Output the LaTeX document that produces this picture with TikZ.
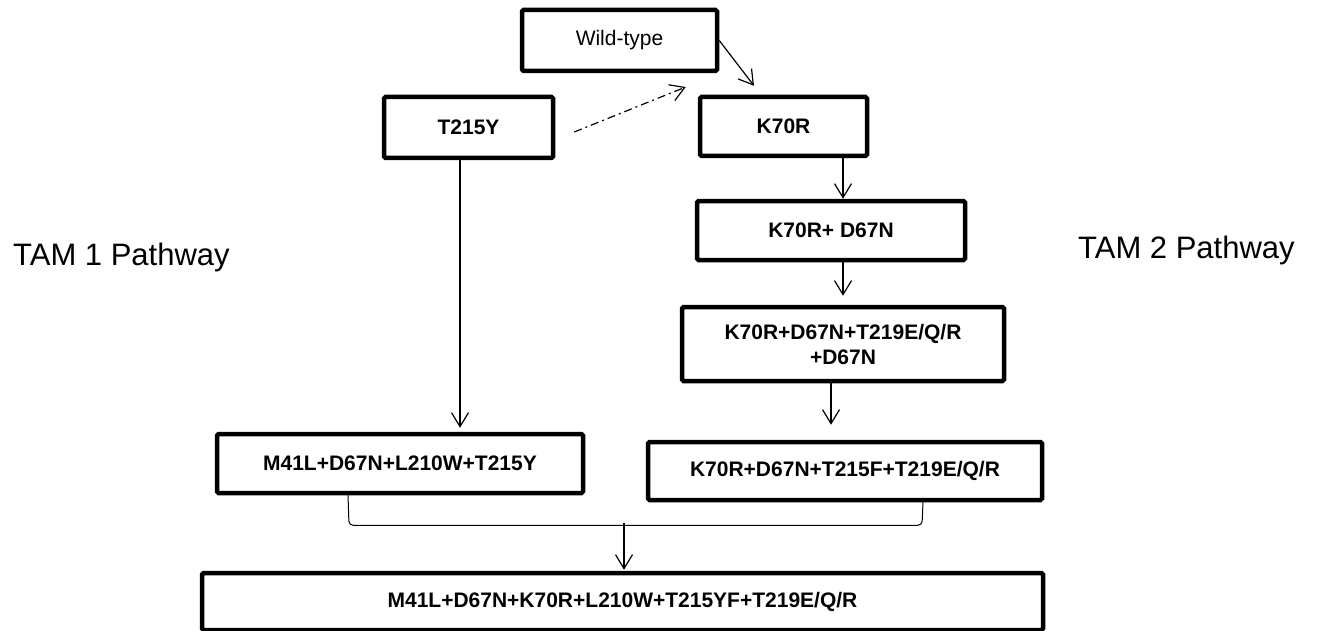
\documentclass[tikz,border=0pt]{standalone}
\usepackage{fontspec}
\setmainfont{Liberation Sans}
\usetikzlibrary{arrows.meta,calc}
\begin{document}
\begin{tikzpicture}[x=1pt,y=-1pt,
  box/.style={draw=black,line width=4.5pt,rounded corners=1.5pt,rectangle,inner sep=0pt,
    font=\fontsize{21}{25}\selectfont\bfseries,align=center},
  arr/.style={line width=1.2pt,-{Straight Barb[length=14pt,width=17pt,line width=1.2pt]}},
  lbl/.style={font=\fontsize{31}{36}\selectfont,inner sep=0pt,anchor=base west}]
\useasboundingbox[fill=white] (0,0) rectangle (1321,631);
% boxes
\node[box,font=\fontsize{21}{25}\selectfont,minimum width=195pt,minimum height=61pt] (wt) at (619.5,40.5) {Wild-type};
\node[box,minimum width=169pt,minimum height=61pt] (t215) at (468.5,127.5) {T215Y};
\node[box,minimum width=167pt,minimum height=59pt] (k70) at (783.5,126.5) {K70R};
\node[box,minimum width=268pt,minimum height=59pt] (kd) at (831,230.5) {K70R+ D67N};
\node[box,minimum width=322pt,minimum height=74pt] (kdt) at (843,344) {K70R+D67N+T219E/Q/R\\+D67N};
\node[box,minimum width=366pt,minimum height=59pt] (m41) at (400,463.5) {M41L+D67N+L210W+T215Y};
\node[box,minimum width=394pt,minimum height=58pt] (kdtt) at (845,471) {K70R+D67N+T215F+T219E/Q/R};
\node[box,minimum width=841pt,minimum height=57pt] (fin) at (622.5,601.5) {M41L+D67N+K70R+L210W+T215YF+T219E/Q/R};
% side labels
\node[lbl] (tam1) at (13,265) {TAM 1 Pathway};
\node[lbl] (tam2) at (1078,258) {TAM 2 Pathway};
% connectors
\draw[arr] (wt.east) -- ($(k70.north)+(-29.5,-9)$);
\draw[arr,dash pattern=on 8pt off 4pt on 2pt off 4pt] ($(t215.east)+(19,4.5)$) -- ($(k70.west)+(-12,-39.5)$);
\draw[arr] ($(t215.south)+(-8.5,0)$) -- ($(m41.north)+(60,-4)$);
\draw[arr] ($(k70.south)+(59.5,0)$) -- ($(kd.north)+(12,0)$);
\draw[arr] ($(kd.south)+(12,0)$) -- ($(kdt.north)+(0,-9)$);
\draw[arr] ($(kdt.south)+(-12,0)$) -- ($(kdtt.north)+(-14,-15)$);
\coordinate (brk) at (624,523);
\draw[line width=1pt,rounded corners=4pt] ($(m41.south)+(-52,0)$) -- ($(m41.south)+(-51,30)$) -- ($(kdtt.south)+(77,23)$) -- ($(kdtt.south)+(78,0)$);
\draw[arr] (brk) -- ($(fin.north)+(1.5,-1)$);
\end{tikzpicture}
\end{document}
